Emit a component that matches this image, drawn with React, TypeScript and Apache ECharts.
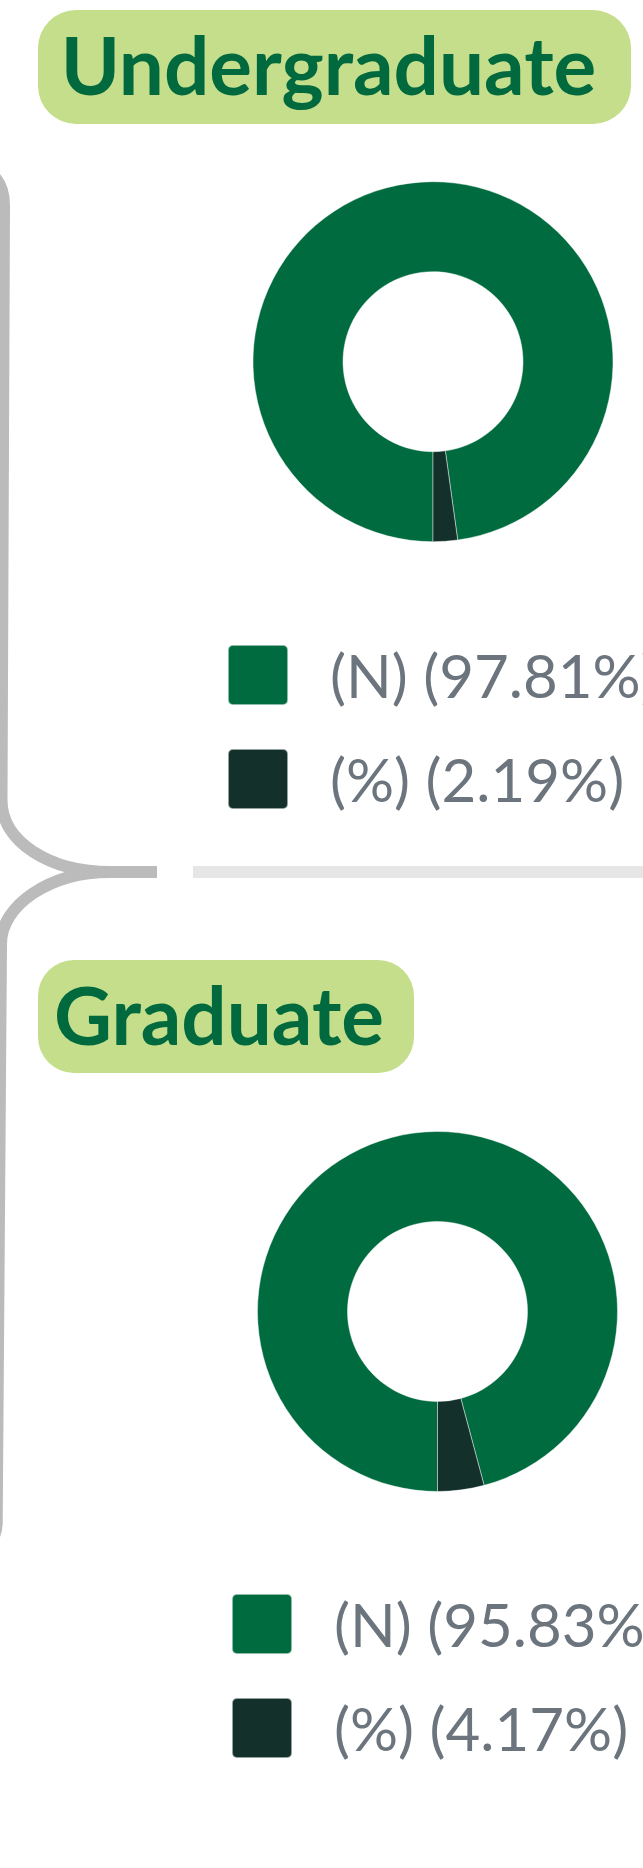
import React, { useEffect, useRef } from "react";
import * as echarts from "echarts";

// ---- data ----
const categories = ["(N)", "(%)"];
const undergradValues = [97.81, 2.19];
const graduateValues = [95.83, 4.17];
const sectionTitles = ["Undergraduate", "Graduate"];
const sliceColors = ["#006b3f", "#13312a"];

const makeNames = (vals: number[]) =>
  categories.map((c, i) => `${c} (${vals[i].toFixed(2)}%)`);

const BRACE_D =
  "M -40 163 C -12 163 4 180 4 205 L 1.5 800 C 1.5 842 50 872 110 872 L 157 872 " +
  "M 110 872 C 50 872 1 905 1 944 L -3.3 1522 C -3.3 1542 -18 1556 -40 1558";

let registered = false;
function ensureShapes() {
  if (registered) return;
  echarts.graphic.registerShape("brace", echarts.graphic.extendPath(BRACE_D, {}) as any);
  registered = true;
}

const ICON =
  "path://M5,0 H55 A5,5 0 0 1 60,5 V55 A5,5 0 0 1 55,60 H5 A5,5 0 0 1 0,55 V5 A5,5 0 0 1 5,0 Z";

export default function App() {
  const ref = useRef<HTMLDivElement>(null);

  useEffect(() => {
    if (!ref.current) return;
    ensureShapes();
    const chart = echarts.init(ref.current, undefined, { renderer: "svg" });

    const n1 = makeNames(undergradValues);
    const n2 = makeNames(graduateValues);

    const pieSeries = (
      vals: number[],
      names: string[],
      center: [number, number]
    ) => ({
      type: "pie",
      center,
      radius: [90, 180],
      startAngle: 270,
      clockwise: true,
      silent: true,
      label: { show: false },
      labelLine: { show: false },
      itemStyle: { borderColor: "rgba(255,255,255,0.55)", borderWidth: 0.8 },
      data: vals.map((v, i) => ({
        name: names[i],
        value: v,
        itemStyle: { color: sliceColors[i] },
      })),
    });

    const legendBase = {
      orient: "vertical",
      icon: ICON,
      itemWidth: 60,
      itemHeight: 60,
      itemGap: 42,
      padding: 0,
      selectedMode: false,
      textStyle: {
        fontFamily: "Lato",
        fontSize: 60,
        lineHeight: 60,
        color: "#6c757d",
        padding: [0, 0, 0, 37],
      },
    };

    chart.setOption({
      animation: false,
      color: sliceColors,
      legend: [
        { ...legendBase, data: n1, left: 227, top: 644 },
        { ...legendBase, data: n2, left: 231, top: 1593 },
      ],
      series: [
        pieSeries(undergradValues, n1, [433, 361.7]),
        pieSeries(graduateValues, n2, [437.5, 1311.5]),
      ],
      graphic: [
        {
          type: "brace",
          silent: true,
          style: { fill: "none", stroke: "#bbbbbb", lineWidth: 12 },
        },
        {
          type: "rect",
          silent: true,
          shape: { x: 193, y: 866, width: 470, height: 12 },
          style: { fill: "#e6e6e6" },
        },
        {
          type: "rect",
          silent: true,
          shape: { x: 38, y: 10, width: 593, height: 114, r: 38 },
          style: { fill: "#c5de8b" },
        },
        {
          type: "text",
          silent: true,
          style: {
            text: sectionTitles[0],
            x: 328.5,
            y: 64,
            fill: "#006a3e",
            fontFamily: "Lato",
            fontWeight: "bold",
            fontSize: 80,
            align: "center",
            verticalAlign: "middle",
          },
        },
        {
          type: "rect",
          silent: true,
          shape: { x: 38, y: 960, width: 376, height: 113, r: 36 },
          style: { fill: "#c5de8b" },
        },
        {
          type: "text",
          silent: true,
          style: {
            text: sectionTitles[1],
            x: 219,
            y: 1014,
            fill: "#006a3e",
            fontFamily: "Lato",
            fontWeight: "bold",
            fontSize: 80,
            align: "center",
            verticalAlign: "middle",
          },
        },
      ],
    });

    return () => chart.dispose();
  }, []);

  return (
    <div
      ref={ref}
      style={{ position: "absolute", left: 0, top: 0, width: 643, height: 1868 }}
    />
  );
}
